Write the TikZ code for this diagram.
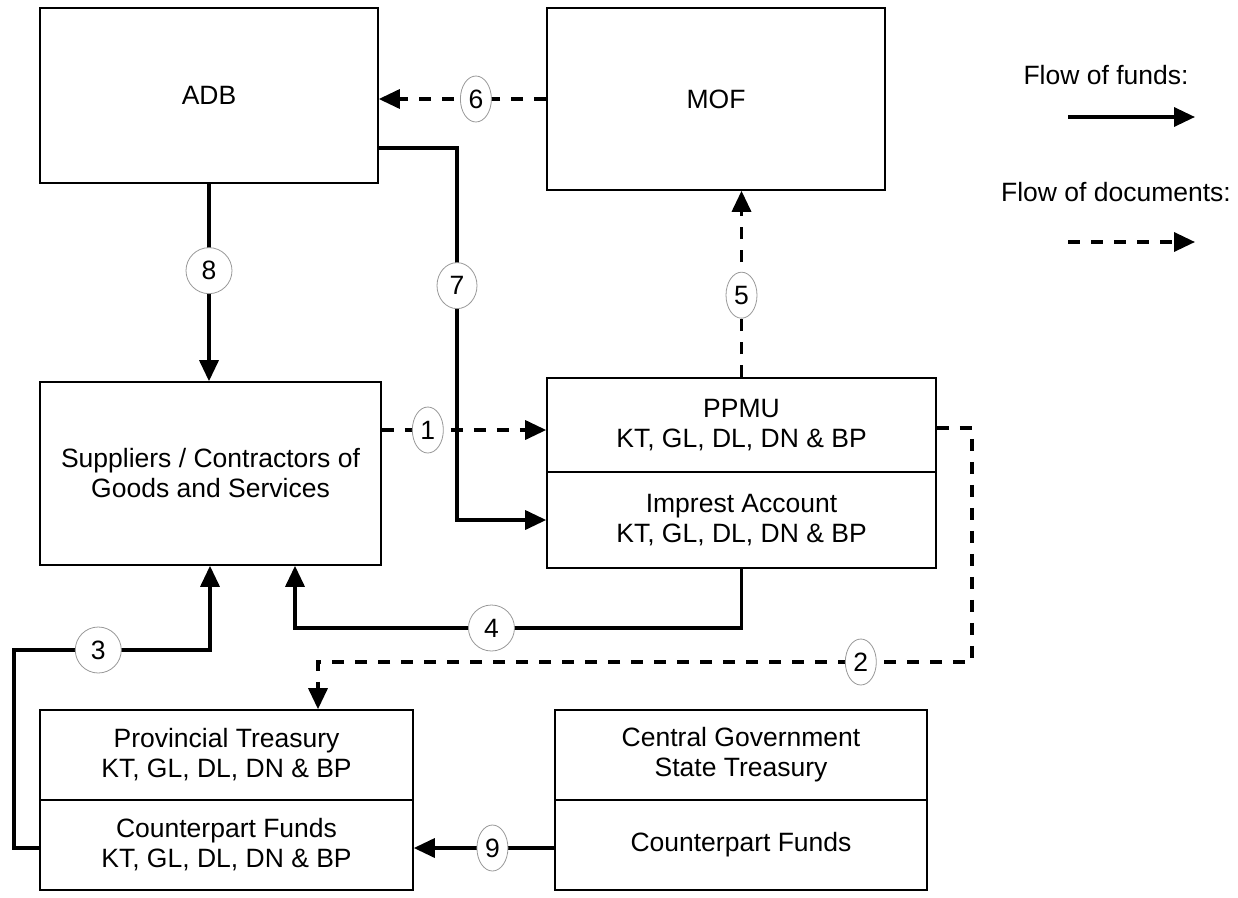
\documentclass[tikz,border=0pt]{standalone}
\usepackage{fontspec}
\setmainfont{Liberation Sans}
\usetikzlibrary{shapes.geometric,arrows.meta}

\begin{document}
\begin{tikzpicture}[x=1pt,y=-1pt,every node/.style={inner sep=1pt},font=\fontsize{26.5}{30}\selectfont]
\tikzstyle{box}=[draw,line width=1.6pt,align=center,inner sep=0pt]
\tikzstyle{funds}=[draw,line width=3.4pt,-{Triangle[length=21pt,width=19pt]}]
\tikzstyle{docs}=[funds,dash pattern=on 12pt off 11pt]
\tikzstyle{tag}=[ellipse,draw=gray!80,line width=0.8pt,fill=white,solid,minimum width=31pt,minimum height=46pt,inner sep=0pt]
\useasboundingbox (0,0) rectangle (1238,897);

\node[box,minimum width=338pt,minimum height=175pt](adb) at (209,95.5){ADB};
\node[box,minimum width=338pt,minimum height=182pt](mof) at (716,99){MOF};

\node[box,minimum width=341pt,minimum height=183pt](suppliers) at (210.5,473.5){Suppliers / Contractors of\\Goods and Services};

\node[box,minimum width=389pt,minimum height=94pt](ppmu) at (741.5,425){PPMU\\KT, GL, DL, DN \& BP};
\node[box,minimum width=389pt,minimum height=96pt](imprest) at (741.5,520){Imprest Account\\KT, GL, DL, DN \& BP};

\node[box,minimum width=373pt,minimum height=90pt](ptreas) at (226.5,755){Provincial Treasury\\KT, GL, DL, DN \& BP};
\node[box,minimum width=373pt,minimum height=90pt](pfunds) at (226.5,845){Counterpart Funds\\KT, GL, DL, DN \& BP};

\node[box,minimum width=372pt,minimum height=90pt](ctreas) at (741,755){Central Government\\State Treasury};
\node[box,minimum width=372pt,minimum height=90pt](cfunds) at (741,845){Counterpart Funds};

% legend
\node(lfunds) at (1106,75){Flow of funds:};
\coordinate(lf1) at (1068,117);
\coordinate(lf2) at (1195,117);
\draw[funds](lf1) -- (lf2);
\node(ldocs) at (1116,192){Flow of documents:};
\coordinate(ld1) at (1068,242);
\coordinate(ld2) at (1195,242);
\draw[docs](ld1) -- (ld2);

% connectors
\draw[docs](mof.west) -- node[tag,pos=0.42](t6){6} (mof.west -| adb.east);
\draw[funds]([yshift=-52.5pt]adb.east) -- (457,148) -- node[tag,pos=0.37,minimum width=40pt](t7){7} (457,520) -- (imprest.west);
\draw[funds](adb.south) -- node[tag,pos=0.44,minimum width=46pt](t8){8} (adb.south |- suppliers.north);
\draw[docs](suppliers.east |- 0,430) -- node[tag,pos=0.28](t1){1} (ppmu.west |- 0,430);
\draw[docs](ppmu.north) -- node[tag,pos=0.44](t5){5} (ppmu.north |- mof.south);
\draw[docs](ppmu.east |- 0,428) -- (972,428) -- (972,662) -- node[tag,pos=0.17](t2){2} (318,662) -- (318,662 |- ptreas.north);
\draw[funds](imprest.south) -- (741.5,628) -- node[tag,pos=0.56,minimum width=46pt](t4){4} (295,628) -- (295,628 |- suppliers.south);
\draw[funds](pfunds.west |- 0,848) -- (14,848) -- (14,650) -- node[tag,pos=0.43,minimum width=46pt](t3){3} (210,650) -- (210,650 |- suppliers.south);
\draw[funds](cfunds.west |- 0,848) -- node[tag,pos=0.44](t9){9} (pfunds.east |- 0,848);
\end{tikzpicture}
\end{document}
